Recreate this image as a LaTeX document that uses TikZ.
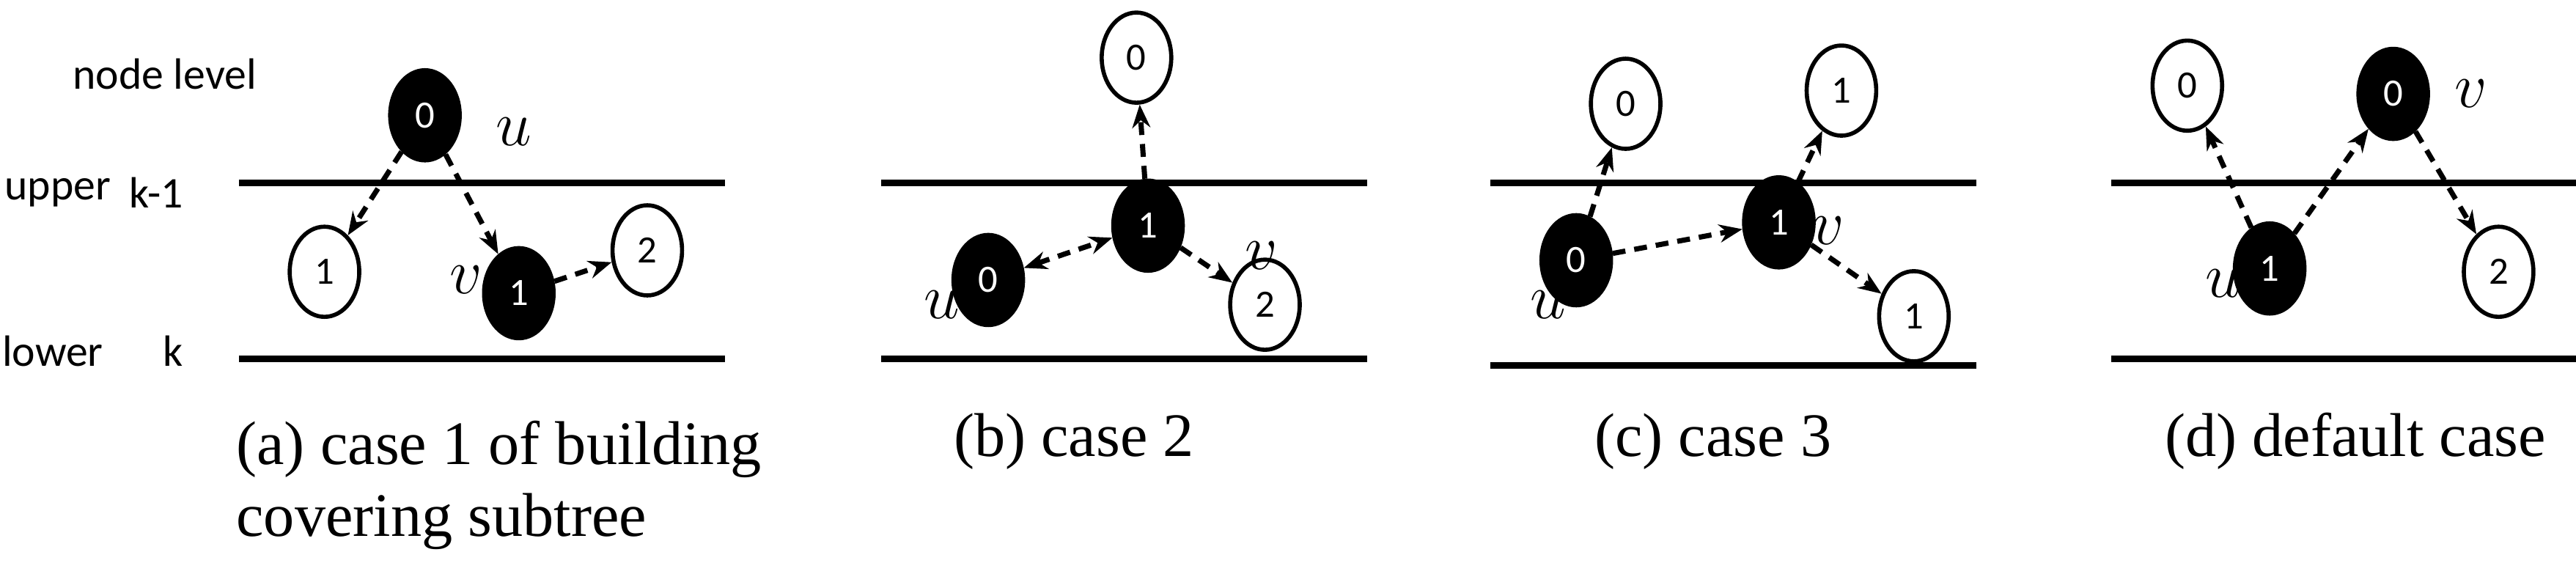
\documentclass[tikz,border=0pt]{standalone}
\usepackage{fontspec}
\setmainfont{Liberation Serif}
\newfontfamily\lbl{Carlito}
\usetikzlibrary{arrows.meta,shapes.geometric}
\begin{document}
\begin{tikzpicture}[x=0.02247cm,y=-0.02247cm,
  wn/.style={ellipse,draw,line width=1.6pt,fill=white,minimum width=27,minimum height=35,inner sep=0pt,font=\lbl\fontsize{15}{15}\selectfont},
  bn/.style={wn,fill=black,text=white},
  lvl/.style={line width=2.6pt},
  ar/.style={-{Stealth[length=9pt,width=7pt]},line width=2pt,dash pattern=on 5pt off 3.5pt},
  br/.style={ar,{Stealth[length=9pt,width=7pt]}-{Stealth[length=9pt,width=7pt]}},
  tl/.style={font=\lbl\fontsize{17}{17}\selectfont},
  lab/.style={font=\itshape\fontsize{26}{26}\selectfont},
  captxt/.style={font=\fontsize{24}{28}\selectfont}]
\useasboundingbox (0,0) rectangle (1564,355);
% panel a
\draw[lvl] (145,111) -- (440,111);
\draw[lvl] (145,218) -- (440,218);
\node[tl] (t1) at (100,45) {node level};
\node[tl] (t2) at (35,117) {upper};
\node[tl] (t3) at (95,117) {k-1};
\node[tl] (t4) at (32,213) {lower};
\node[tl] (t5) at (105,213) {k};
\node[bn] (a0) at (258,70) {0};
\node[lab] (au) at (312,80) {$u$};
\node[wn] (a1) at (197,165) {1};
\node[bn] (av) at (315,178) {1};
\node[lab] (avl) at (283,170) {$v$};
\node[wn] (a2) at (393,152) {2};
\draw[ar] (a0) -- (a1);
\draw[ar] (a0) -- (av);
\draw[ar] (av) -- (a2);
\node[captxt,align=left,anchor=north west] (ca) at (138,250) {(a) case 1 of building\\covering subtree};
% panel b
\draw[lvl] (535,111) -- (830,111);
\draw[lvl] (535,218) -- (830,218);
\node[wn] (b0) at (690,35) {0};
\node[bn] (b1) at (697,137) {1};
\node[bn] (bu) at (600,170) {0};
\node[lab] (bul) at (572,185) {$u$};
\node[wn] (b2) at (768,185) {2};
\node[lab] (bvl) at (766,155) {$v$};
\draw[ar] (b1) -- (b0);
\draw[br] (bu) -- (b1);
\draw[ar] (b1) -- (b2);
\node[captxt] (cb) at (652,268) {(b) case 2};
% panel c
\draw[lvl] (905,111) -- (1200,111);
\draw[lvl] (905,222) -- (1200,222);
\node[wn] (c0) at (987,63) {0};
\node[bn] (cu) at (957,158) {0};
\node[lab] (cul) at (940,185) {$u$};
\node[bn] (c1) at (1080,135) {1};
\node[lab] (cvl) at (1110,140) {$v$};
\node[wn] (ct) at (1118,55) {1};
\node[wn] (cb1) at (1162,192) {1};
\draw[ar] (cu) -- (c0);
\draw[ar] (cu) -- (c1);
\draw[ar] (c1) -- (ct);
\draw[ar] (c1) -- (cb1);
\node[captxt] (cc) at (1040,268) {(c) case 3};
% panel d
\draw[lvl] (1282,111) -- (1575,111);
\draw[lvl] (1282,218) -- (1575,218);
\node[wn] (d0) at (1328,52) {0};
\node[bn] (dv) at (1453,57) {0};
\node[lab] (dvl) at (1500,57) {$v$};
\node[bn] (du) at (1378,163) {1};
\node[lab] (dul) at (1350,172) {$u$};
\node[wn] (d2) at (1517,165) {2};
\draw[ar] (du) -- (d0);
\draw[ar] (du) -- (dv);
\draw[ar] (dv) -- (d2);
\node[captxt] (cd) at (1430,268) {(d) default case};
\end{tikzpicture}
\end{document}
